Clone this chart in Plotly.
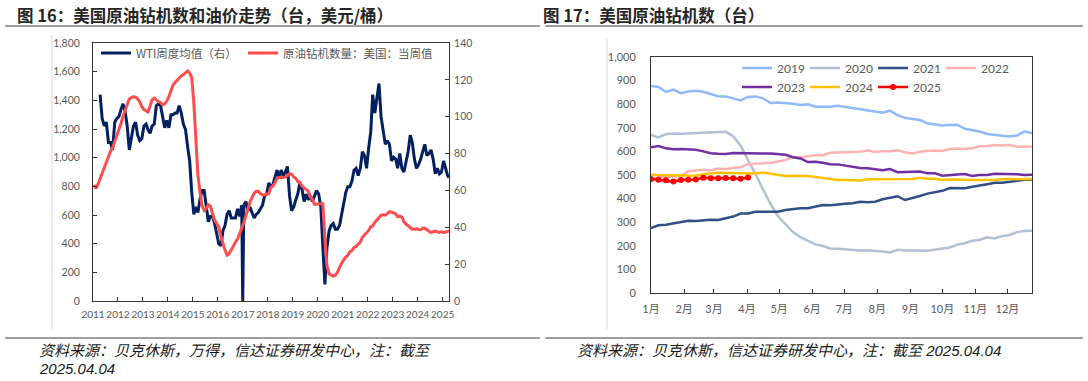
import pandas as pd
import plotly.graph_objects as go

W, H = 1088, 381

# ---------------- Left chart data (monthly, mid-month) ----------------
rig_count = [
    810, 785, 815, 855, 890, 925, 960, 1000, 1045, 1070, 1110, 1160,      # 2011
    1195, 1240, 1290, 1330, 1375, 1410, 1420, 1425, 1422, 1410, 1390, 1355,  # 2012
    1335, 1325, 1318, 1360, 1405, 1415, 1400, 1390, 1385, 1368, 1375, 1395,  # 2013
    1425, 1460, 1505, 1525, 1540, 1560, 1570, 1580, 1595, 1605, 1590, 1560,  # 2014
    1380, 1060, 880, 760, 665, 632, 645, 672, 660, 610, 565, 540,          # 2015
    515, 450, 395, 355, 320, 332, 355, 390, 412, 432, 465, 508,            # 2016
    548, 595, 650, 690, 722, 750, 765, 765, 750, 740, 740, 745,            # 2017
    750, 795, 800, 825, 855, 862, 860, 862, 866, 875, 887, 885,            # 2018
    865, 855, 833, 828, 802, 789, 779, 768, 725, 710, 674, 675,            # 2019
    673, 678, 680, 438, 245, 189, 180, 174, 180, 200, 235, 262,            # 2020
    287, 306, 318, 344, 352, 373, 380, 397, 411, 445, 461, 475,            # 2021
    492, 520, 524, 548, 563, 584, 599, 601, 599, 610, 623, 620,            # 2022
    613, 607, 589, 591, 586, 552, 537, 525, 515, 501, 500, 503,            # 2023
    499, 497, 509, 506, 497, 488, 477, 483, 488, 482, 478, 482,            # 2024
    478, 481, 487, 489,                                                    # 2025 (Jan-Mar, Apr 4)
]
rig_dates = list(pd.date_range("2011-01-01", "2025-03-01", freq="MS") + pd.Timedelta(days=14)) + [pd.Timestamp("2025-04-04")]

wti_price = [
    112, 99, 95, 97, 86, 86, 82, 97, 99,                                   # 2011 (Apr-Dec)
    100, 104, 107, 103, 95, 82, 88, 95, 97, 90, 87, 88,                    # 2012
    95, 96, 93, 91, 95, 96, 106, 107, 106, 100, 94, 98,                    # 2013
    94, 101, 101, 102, 102, 106, 102, 96, 93, 84, 76, 59,                  # 2014
    47, 51, 48, 55, 60, 60, 51, 43, 46, 46, 42, 37,                        # 2015
    31, 30, 38, 41, 47, 49, 45, 45, 45, 50, 46, 52,                        # 2016
    52, 54, 49, 51, 48, 45, 47, 48, 50, 52, 57, 58,                        # 2017
    64, 62, 63, 67, 71, 67, 71, 68, 70, 73, 57, 49,                        # 2018
    51, 55, 58, 64, 61, 54, 58, 55, 57, 54, 57, 60,                        # 2019
    58, 51, 30, 9, 29, 38, 41, 42, 39, 39, 41, 47,                         # 2020
    52, 59, 62, 62, 65, 71, 72, 68, 72, 81, 79, 72,                        # 2021
    83, 92, 112, 102, 110, 118, 100, 92, 85, 87, 85, 76,                   # 2022
    78, 77, 72, 80, 72, 70, 76, 81, 90, 86, 77, 72,                        # 2023
    74, 77, 81, 85, 79, 80, 82, 77, 69, 72, 69, 70,                        # 2024
    76, 71, 68, 67,                                                        # 2025 (Jan-Mar, Apr 4)
]
wti_dates = list(pd.date_range("2011-04-01", "2025-03-01", freq="MS") + pd.Timedelta(days=14)) + [pd.Timestamp("2025-04-04")]
# one weekly glitch value visible at end of 2016
wti_glitch_date = pd.Timestamp("2016-12-30")
wti_glitch_value = 0

wti_series = pd.Series(wti_price, index=wti_dates)
wti_series.loc[wti_glitch_date] = wti_glitch_value
wti_series = wti_series.sort_index()

year_ticks = [str(y) for y in range(2011, 2026)]

# ---------------- Right chart data (weekly) ----------------
rigs_2019 = [877, 873, 852, 862, 847, 854, 857, 853, 843, 834, 833, 824, 816, 831, 833, 825, 805, 807, 805, 802,
             797, 800, 789, 788, 789, 793, 788, 784, 779, 776, 770, 764, 773, 754, 742, 738, 733, 719, 713, 710,
             712, 713, 696, 691, 684, 674, 671, 668, 663, 667, 685, 677]
rigs_2020 = [670, 659, 673, 676, 675, 676, 678, 679, 678, 682, 683, 664, 624, 562, 504, 438, 378, 325, 292, 258,
             237, 222, 206, 199, 189, 188, 185, 181, 180, 181, 180, 176, 172, 183, 180, 181, 180, 179, 183, 189,
             193, 205, 211, 221, 226, 236, 231, 241, 246, 258, 263, 264]
rigs_2021 = [275, 287, 289, 295, 299, 306, 305, 309, 310, 309, 318, 324, 337, 337, 344, 343, 342, 344, 352, 356,
             359, 359, 365, 373, 372, 376, 378, 380, 387, 385, 387, 397, 405, 410, 394, 401, 411, 421, 428, 433,
             445, 443, 444, 450, 454, 461, 467, 467, 471, 475, 480, 480]
rigs_2022 = [481, 492, 491, 495, 497, 516, 520, 522, 519, 527, 524, 531, 533, 546, 548, 549, 552, 557, 563, 576,
             574, 580, 584, 584, 594, 595, 597, 599, 599, 605, 598, 601, 601, 605, 596, 591, 599, 602, 604, 602,
             610, 612, 610, 613, 622, 623, 627, 625, 627, 620, 622, 621]
rigs_2023 = [618, 623, 613, 609, 610, 609, 607, 600, 592, 590, 589, 593, 592, 590, 591, 591, 591, 588, 586, 575,
             570, 555, 556, 552, 546, 545, 540, 537, 530, 529, 525, 520, 525, 512, 513, 515, 515, 507, 507, 497,
             501, 502, 504, 496, 500, 500, 505, 505, 503, 503, 500, 501]
rigs_2024 = [501, 499, 499, 499, 499, 497, 497, 503, 506, 510, 509, 509, 506, 508, 506, 511, 506, 499, 496, 497,
             497, 496, 492, 488, 485, 479, 479, 478, 477, 482, 482, 483, 483, 483, 483, 483, 488, 484, 484, 479,
             481, 482, 480, 479, 479, 478, 479, 482, 482, 482, 483, 483]
rigs_2025 = [483, 480, 478, 472, 479, 480, 481, 488, 486, 486, 487, 486, 484, 489]

month_labels = ["1月", "2月", "3月", "4月", "5月", "6月", "7月", "8月", "9月", "10月", "11月", "12月"]
month_start_day = [0, 31, 59, 90, 120, 151, 181, 212, 243, 273, 304, 334]

year_series = [
    ("2019", rigs_2019, "#8FB9FB", "legend2"),
    ("2020", rigs_2020, "#B3BFD3", "legend2"),
    ("2021", rigs_2021, "#2F4F85", "legend2"),
    ("2022", rigs_2022, "#FFB2B2", "legend2"),
    ("2023", rigs_2023, "#7030A0", "legend3"),
    ("2024", rigs_2024, "#FFC000", "legend3"),
]

# ---------------- Styling ----------------
NUM_FONT = "Lato, 'Noto Sans CJK SC', sans-serif"
CJK_FONT = "'Noto Sans CJK SC', sans-serif"
TICK_COLOR = "#595959"
AXIS_COLOR = "#333333"


def px(x):
    """window pixel x -> paper fraction"""
    return x / W


def py(y):
    """window pixel y (from top) -> paper fraction"""
    return 1 - y / H


fig = go.Figure()

# Left chart: WTI (right axis) and rig count (left axis, drawn on top)
fig.add_trace(go.Scatter(
    x=wti_series.index, y=wti_series.values, mode="lines", name="WTI周度均值（右）",
    line=dict(color="#002060", width=3), xaxis="x", yaxis="y", legend="legend", legendwidth=102,
))
fig.add_trace(go.Scatter(
    x=rig_dates, y=rig_count, mode="lines", name="原油钻机数量：美国：当周值",
    line=dict(color="#FF4D4D", width=3), xaxis="x", yaxis="y2", legend="legend", legendwidth=170,
))

# Right chart: rig count by year
for name, vals, color, lg in year_series:
    fig.add_trace(go.Scatter(
        x=list(range(len(vals))), y=vals, mode="lines", name=name,
        line=dict(color=color, width=2.5), xaxis="x2", yaxis="y3", legend=lg, legendwidth=23,
    ))
fig.add_trace(go.Scatter(
    x=list(range(len(rigs_2025))), y=rigs_2025, mode="lines+markers", name="2025",
    line=dict(color="#FF0000", width=2.5), marker=dict(color="#FF0000", size=6),
    xaxis="x2", yaxis="y3", legend="legend3", legendwidth=23,
))

tickfont = dict(family=NUM_FONT, size=10.5, color=TICK_COLOR)
tickfont_x = dict(family=NUM_FONT, size=10, color=TICK_COLOR)
tickfont_r = dict(family=NUM_FONT, size=11, color=TICK_COLOR)

fig.update_layout(
    width=W, height=H, autosize=False,
    margin=dict(l=0, r=0, t=0, b=0, pad=0),
    paper_bgcolor="white", plot_bgcolor="white",
    showlegend=True,
    xaxis=dict(
        domain=[px(93), px(449)], type="date",
        range=["2011-01-01", "2025-04-04"],
        tickvals=[f"{y}-01-01" for y in year_ticks], ticktext=year_ticks, tickangle=0,
        ticks="inside", ticklen=4, tickcolor=AXIS_COLOR,
        showline=True, linecolor=AXIS_COLOR, linewidth=1, mirror=True,
        showgrid=False, zeroline=False, tickfont=tickfont_x, anchor="y",
        ticklabelstandoff=4, automargin=False,
    ),
    yaxis=dict(
        domain=[py(301), py(43)], range=[0, 140], dtick=20, side="right",
        ticks="inside", ticklen=4, tickcolor=AXIS_COLOR,
        showline=True, linecolor=AXIS_COLOR, linewidth=1,
        showgrid=False, zeroline=False, tickfont=tickfont, anchor="x",
        ticklabelstandoff=2, automargin=False,
    ),
    yaxis2=dict(
        range=[0, 1800], dtick=200, tickformat=",", side="left", overlaying="y",
        ticks="inside", ticklen=4, tickcolor=AXIS_COLOR,
        showline=True, linecolor=AXIS_COLOR, linewidth=1,
        showgrid=False, zeroline=False, tickfont=tickfont, anchor="x",
        ticklabelstandoff=10, automargin=False,
    ),
    xaxis2=dict(
        domain=[px(651), px(1032)], range=[0, 51],
        tickvals=[d / 7 for d in month_start_day], ticktext=month_labels, tickangle=0,
        ticks="inside", ticklen=4, tickcolor=AXIS_COLOR,
        showline=True, linecolor=AXIS_COLOR, linewidth=1, mirror=True,
        showgrid=False, zeroline=False, tickfont=tickfont_r, anchor="y3",
        ticklabelstandoff=6, automargin=False,
    ),
    yaxis3=dict(
        domain=[py(293), py(57)], range=[0, 1000], dtick=100, tickformat=",",
        ticks="", showline=True, linecolor=AXIS_COLOR, linewidth=1, mirror=True,
        showgrid=False, zeroline=False, tickfont=tickfont_r, anchor="x2",
        ticklabelstandoff=12, automargin=False,
    ),
    legend=dict(
        orientation="h", x=px(96), y=py(53), xanchor="left", yanchor="middle",
        bgcolor="rgba(0,0,0,0)",
        font=dict(family=CJK_FONT, size=11.5, color=TICK_COLOR),
    ),
    legend2=dict(
        orientation="h", x=px(737), y=py(68), xanchor="left", yanchor="middle",
        bgcolor="rgba(0,0,0,0)",
        font=dict(family=NUM_FONT, size=12, color=TICK_COLOR),
    ),
    legend3=dict(
        orientation="h", x=px(737), y=py(87), xanchor="left", yanchor="middle",
        bgcolor="rgba(0,0,0,0)",
        font=dict(family=NUM_FONT, size=12, color=TICK_COLOR),
    ),
)

shapes = []
# title rules and footer rules
for x0, x1 in [(5, 540), (545, 1083)]:
    shapes.append(dict(type="line", xref="paper", yref="paper", x0=px(x0), x1=px(x1), y0=py(26), y1=py(26),
                       line=dict(color="#404040", width=1.2)))
    shapes.append(dict(type="line", xref="paper", yref="paper", x0=px(x0), x1=px(x1), y0=py(338), y1=py(338),
                       line=dict(color="#404040", width=1.2)))
# thin chart-area edges
for xv, y0 in [(52, 35), (607, 38)]:
    shapes.append(dict(type="line", xref="paper", yref="paper", x0=px(xv), x1=px(xv), y0=py(y0), y1=py(330),
                       line=dict(color="#D9D9D9", width=1)))
fig.update_layout(shapes=shapes)

ann = []
ann.append(dict(text="<b>图 16：美国原油钻机数和油价走势（台，美元/桶）</b>", x=px(15), y=py(14.5),
                xref="paper", yref="paper", xanchor="left", yanchor="middle", showarrow=False,
                font=dict(family=CJK_FONT, size=16.5, color="#262626")))
ann.append(dict(text="<b>图 17：美国原油钻机数（台）</b>", x=px(541), y=py(14.5),
                xref="paper", yref="paper", xanchor="left", yanchor="middle", showarrow=False,
                font=dict(family=CJK_FONT, size=16.5, color="#262626")))
foot_font = dict(family="'Liberation Sans', 'Noto Sans CJK SC', sans-serif", size=15, color="#1a1a1a")
ann.append(dict(text="<i>资料来源：贝克休斯，万得，信达证券研发中心，注：截至</i>", x=px(37), y=py(350),
                xref="paper", yref="paper", xanchor="left", yanchor="middle", showarrow=False, font=foot_font))
ann.append(dict(text="<i>2025.04.04</i>", x=px(37), y=py(368),
                xref="paper", yref="paper", xanchor="left", yanchor="middle", showarrow=False, font=foot_font))
ann.append(dict(text="<i>资料来源：贝克休斯，信达证券研发中心，注：截至 2025.04.04</i>", x=px(575), y=py(350),
                xref="paper", yref="paper", xanchor="left", yanchor="middle", showarrow=False, font=foot_font))
fig.update_layout(annotations=ann)

# the page's default 8px body margin would push the 1088x381 figure off the window
fig.write_html("out.html", config={"displayModeBar": False},
               post_script="document.body.style.margin='0px';")
